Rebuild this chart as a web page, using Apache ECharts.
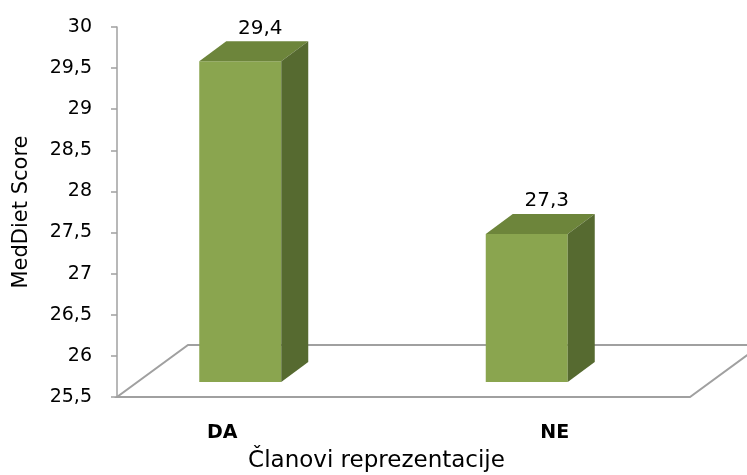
<!DOCTYPE html>
<html>
<head>
<meta charset="utf-8">
<script src="https://cdn.jsdelivr.net/npm/echarts@6/dist/echarts.min.js"></script>
<style>
  html, body { margin: 0; padding: 0; background: #fff; }
  #chart { width: 747px; height: 475px; }
</style>
</head>
<body>
<div id="chart"></div>
<script>
// podaci
var categories = ['DA', 'NE']
var scores = [29.4, 27.3]
var yMin = 25.5
var yMax = 30
var yStep = 0.5

// 3D izgled (pikseli)
var depthX = 27, depthY = 20, lift = 15
var faceLeft = -61, faceWidth = 82
var floorX = 71, floorY = 52
var lineGrey = '#a0a0a0'

function comma (v) {
  return String(v).replace('.', ',')
}

var chart = echarts.init(document.getElementById('chart'))

var option = {
  animation: false,
  grid: { left: 117, right: 57, top: 27, bottom: 78, outerBoundsMode: 'none' },
  xAxis: {
    type: 'category',
    data: categories,
    axisLine: { show: false },
    axisTick: { show: false },
    axisLabel: {
      margin: 27,
      formatter: function (v) { return '{' + v + '|' + v + '}' },
      rich: {
        DA: { fontFamily: 'DejaVu Sans', fontWeight: 'bold', fontSize: 19, color: '#000', padding: [0, 76, 0, 0] },
        NE: { fontFamily: 'DejaVu Sans', fontWeight: 'bold', fontSize: 19, color: '#000', padding: [0, 0, 0, 16] }
      }
    },
    name: 'Članovi reprezentacije',
    nameLocation: 'middle',
    nameGap: 53,
    nameTextStyle: { fontFamily: 'DejaVu Sans', fontSize: 23, color: '#000', padding: [0, 54, 0, 0] }
  },
  yAxis: {
    type: 'value',
    min: yMin,
    max: yMax,
    interval: yStep,
    splitLine: { show: false },
    axisLine: { show: true, lineStyle: { color: lineGrey, width: 1.5 } },
    axisTick: { show: true, length: 6, lineStyle: { color: lineGrey, width: 1.5 } },
    axisLabel: {
      margin: 25,
      fontFamily: 'DejaVu Sans',
      fontSize: 19,
      color: '#000',
      formatter: comma
    },
    name: 'MedDiet Score',
    nameLocation: 'middle',
    nameRotate: 90,
    nameGap: 85,
    nameTextStyle: { fontFamily: 'DejaVu Sans', fontSize: 21, color: '#000' }
  },
  series: [
    {
      // pod (floor)
      type: 'custom',
      data: [[0, yMin]],
      silent: true,
      z: 1,
      renderItem: function (params, api) {
        var cs = params.coordSys
        var x0 = cs.x, x1 = cs.x + cs.width, yb = cs.y + cs.height
        return {
          type: 'polygon',
          shape: {
            points: [[x0, yb], [x1, yb], [x1 + floorX, yb - floorY], [x0 + floorX, yb - floorY]]
          },
          style: { fill: 'none', stroke: lineGrey, lineWidth: 2 }
        }
      }
    },
    {
      type: 'custom',
      data: scores.map(function (v, i) { return [i, v] }),
      z: 2,
      renderItem: function (params, api) {
        var idx = api.value(0)
        var val = api.value(1)
        var p = api.coord([idx, val])
        var base = api.coord([idx, yMin])
        var l = p[0] + faceLeft
        var r = l + faceWidth
        var top = p[1] - lift
        var bottom = base[1] - lift
        return {
          type: 'group',
          children: [
            {
              type: 'rect',
              shape: { x: l, y: top, width: faceWidth, height: bottom - top },
              style: { fill: '#8aa54f' }
            },
            {
              type: 'polygon',
              shape: { points: [[l, top], [r, top], [r + depthX, top - depthY], [l + depthX, top - depthY]] },
              style: { fill: '#6d853b' }
            },
            {
              type: 'polygon',
              shape: { points: [[r, top], [r + depthX, top - depthY], [r + depthX, bottom - depthY], [r, bottom]] },
              style: { fill: '#566a30' }
            },
            {
              type: 'text',
              style: {
                text: comma(val),
                x: p[0],
                y: top - depthY - 13,
                align: 'center',
                verticalAlign: 'middle',
                fontFamily: 'DejaVu Sans',
                fontSize: 20,
                fill: '#000'
              }
            }
          ]
        }
      }
    }
  ]
}

chart.setOption(option)
</script>
</body>
</html>
